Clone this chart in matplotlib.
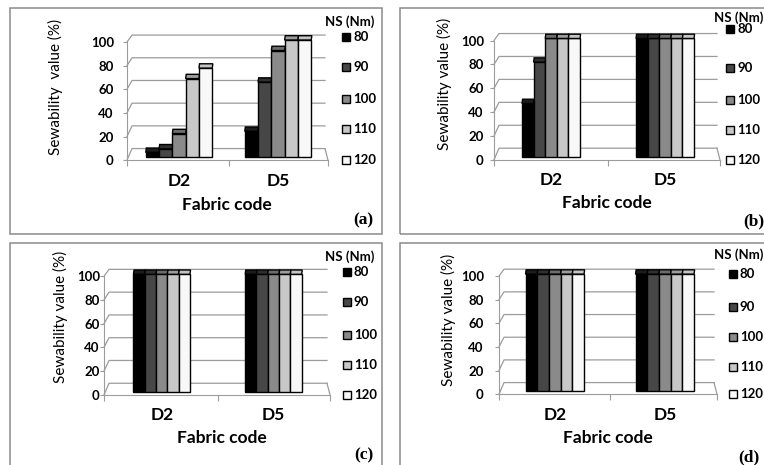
import matplotlib
matplotlib.use('Agg')
import matplotlib.pyplot as plt
from matplotlib.patches import Rectangle, Polygon
import numpy as np

W, H = 764, 465

# ---- data ----
fabric_codes = ['D2', 'D5']
needle_sizes = ['80', '90', '100', '110', '120']
y_ticks = [0, 20, 40, 60, 80, 100]

# sewability value (%) : one row per needle size (Nm), columns D2, D5
sew_a = [[4, 22], [7, 64], [20, 91], [67, 100], [76, 100]]
sew_b = [[45, 100], [80, 100], [100, 100], [100, 100], [100, 100]]
sew_c = [[100, 100], [100, 100], [100, 100], [100, 100], [100, 100]]
sew_d = [[100, 100], [100, 100], [100, 100], [100, 100], [100, 100]]
panel_tags = ['(a)', '(b)', '(c)', '(d)']
ylabels = ['Sewability  value (%)', 'Sewability value (%)',
           'Sewability value (%)', 'Sewability value (%)']

bar_colors = ['#000000', '#474747', '#8a8a8a', '#c8c8c8', '#f8f8f8']
cap_colors = ['#1c1c1c', '#2f2f2f', '#6c6c6c', '#9c9c9c', '#c4c4c4']
GRID = '#9c9c9c'

# ---- layout (pixels) ----
FRONT_Y0, FRONT_K = -2.7, 1.01   # front axis (tick labels)
BACK_Y0, BACK_K = 7.2, 0.97      # back wall gridlines
Y_TOP = 116
layouts = [
    dict(frame=(10, 8, 382, 234), fl=127, fr=328, c0=179, s=99, base=157, k=1.17, bar=13.3,
         ypad=13, ylab=(55, 87), xlab=(227, 205), tag=(363, 220),
         leg_title=(325, 22), leg_x=342, leg_rows=[37, 67, 99, 129, 160]),
    dict(frame=(400, 8, 780, 234), fl=494, fr=720, c0=551, s=114, base=156.7, k=1.182, bar=11.6,
         ypad=10, ylab=(444, 84), xlab=(607, 203), tag=(754, 221),
         leg_title=(714, 18), leg_x=726, leg_rows=[29, 68, 100, 130, 160]),
    dict(frame=(10, 243, 382, 470), fl=104, fr=330, c0=161.7, s=111.7, base=391.7, k=1.174, bar=11.3,
         ypad=4, ylab=(60, 317), xlab=(222, 438), tag=(364, 455),
         leg_title=(325, 257), leg_x=343, leg_rows=[272, 302, 335, 365, 395]),
    dict(frame=(400, 243, 780, 470), fl=499, fr=717, c0=554.8, s=110, base=391, k=1.169, bar=11.7,
         ypad=15, ylab=(448, 320), xlab=(608, 438), tag=(749, 457),
         leg_title=(714, 255), leg_x=729, leg_rows=[274, 307, 337, 367, 394]),
]
panel_values = [sew_a, sew_b, sew_c, sew_d]

plt.rcParams['font.family'] = ['Lato', 'DejaVu Sans']


def fx(px):
    return px / W


def fy(py):
    return 1 - py / H


fig = plt.figure(figsize=(W / 100, H / 100), dpi=100)
fig.patch.set_facecolor('white')

for values, lay, tag, ylab in zip(panel_values, layouts, panel_tags, ylabels):
    s, k = lay['s'], lay['k']
    x0, y0, x1, y1 = lay['frame']
    fig.add_artist(Rectangle((fx(x0), fy(y1)), (x1 - x0) / W, (y1 - y0) / H,
                             transform=fig.transFigure, fill=False,
                             edgecolor='#8a8a8a', linewidth=1.1))

    xl = (lay['fl'] - lay['c0']) / s
    xr = (lay['fr'] - lay['c0']) / s
    bot_px = lay['base'] - FRONT_Y0 * k
    top_px = lay['base'] - Y_TOP * k
    ax = fig.add_axes([fx(lay['fl']), fy(bot_px),
                       (lay['fr'] - lay['fl']) / W, (bot_px - top_px) / H])
    ax.set_xlim(xl, xr)
    ax.set_ylim(FRONT_Y0, Y_TOP)
    ax.patch.set_alpha(0)

    # back wall gridlines with the left wall stubs
    bxl = xl + 5 / s
    bxr = xr - 3 / s
    for t in y_ticks:
        yf = FRONT_Y0 + FRONT_K * t
        yb = BACK_Y0 + BACK_K * t
        ax.plot([xl, bxl, bxr], [yf, yb, yb], color=GRID, lw=0.9, zorder=1, clip_on=False)
    ax.plot([xr, bxr], [FRONT_Y0, BACK_Y0], color=GRID, lw=0.9, zorder=1, clip_on=False)

    # bars with a flat 3D top
    x = np.arange(len(fabric_codes))
    bw = lay['bar'] / s
    cdx = 0.6 / s
    cdy = 4.3 / k
    for i, (vals, fc, cc) in enumerate(zip(values, bar_colors, cap_colors)):
        xs = x + (i - 2) * bw
        ax.bar(xs, vals, width=bw, color=fc, edgecolor='black', linewidth=1.0, zorder=3)
        for xi, v in zip(xs, vals):
            ax.add_patch(Polygon([(xi - bw / 2, v), (xi + bw / 2, v),
                                  (xi + bw / 2 + cdx, v + cdy), (xi - bw / 2 + cdx, v + cdy)],
                                 closed=True, facecolor=cc, edgecolor='black',
                                 linewidth=1.0, zorder=3))

    for side in ['top', 'right']:
        ax.spines[side].set_visible(False)
    ax.spines['left'].set_color(GRID)
    ax.spines['bottom'].set_color(GRID)
    ax.spines['left'].set_bounds(FRONT_Y0, FRONT_Y0 + FRONT_K * 100)

    ax.set_yticks([FRONT_Y0 + FRONT_K * t for t in y_ticks], labels=[str(t) for t in y_ticks])
    ax.tick_params(axis='y', length=3, color=GRID, width=0.8,
                   pad=(lay['ypad'] - 4) * 0.72, labelsize=9.5)
    for lbl in ax.get_yticklabels():
        lbl.set_fontweight('bold')

    ax.set_xticks(x, labels=fabric_codes)
    ax.set_xticks([xl, 0.5, xr], minor=True)
    ax.tick_params(axis='x', which='major', length=0, pad=9, labelsize=12.5)
    ax.tick_params(axis='x', which='minor', length=4, color=GRID, width=0.8)
    for lbl in ax.get_xticklabels():
        lbl.set_fontweight('bold')

    fig.text(fx(lay['ylab'][0]), fy(lay['ylab'][1]), ylab, rotation=90,
             ha='center', va='center', fontsize=11)
    fig.text(fx(lay['xlab'][0]), fy(lay['xlab'][1]), 'Fabric code',
             ha='center', va='center', fontsize=12.5, fontweight='bold')
    fig.text(fx(lay['tag'][0]), fy(lay['tag'][1]), tag, ha='center', va='center',
             fontsize=12.5, fontweight='bold', family='Liberation Serif')

    # legend
    fig.text(fx(lay['leg_title'][0]), fy(lay['leg_title'][1]), 'NS (Nm)',
             ha='left', va='center', fontsize=9.5, fontweight='bold')
    for name, fc, ry in zip(needle_sizes, bar_colors, lay['leg_rows']):
        fig.add_artist(Rectangle((fx(lay['leg_x']), fy(ry + 4)), 8 / W, 8 / H,
                                 transform=fig.transFigure, facecolor=fc,
                                 edgecolor='black', linewidth=1.0))
        fig.text(fx(lay['leg_x'] + 11), fy(ry), name, ha='left', va='center',
                 fontsize=9.5, fontweight='bold')

fig.savefig('out.png', dpi=100)
